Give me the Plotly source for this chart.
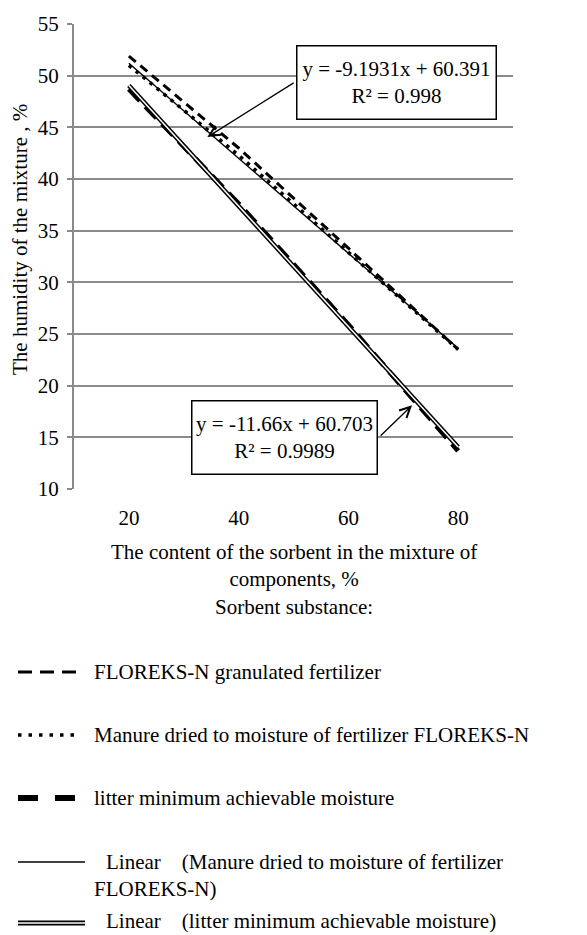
import numpy as np
import plotly.graph_objects as go

# ---------------- data ----------------
sorbent_content = [20, 40, 60, 80]            # x categories, %
floreks_humidity = [51.9, 43.0, 33.3, 23.5]   # FLOREKS-N granulated fertilizer
manure_humidity = [51.0, 42.3, 32.9, 23.5]    # manure dried to moisture of FLOREKS-N
litter_humidity = [48.7, 37.6, 25.9, 13.7]    # litter minimum achievable moisture

manure_slope, manure_intercept, manure_r2 = -9.1931, 60.391, "0.998"
litter_slope, litter_intercept, litter_r2 = -11.66, 60.703, "0.9989"

y_ticks = [10, 15, 20, 25, 30, 35, 40, 45, 50, 55]
x_ticks = [20, 40, 60, 80]

series_names = [
    "FLOREKS-N granulated fertilizer",
    "Manure dried to moisture of fertilizer FLOREKS-N",
    "litter minimum achievable moisture",
    "Linear    (Manure dried to moisture of fertilizer FLOREKS-N)",
    "Linear    (litter minimum achievable moisture)",
]

x_title = "The content of the sorbent in the mixture of<br>components, %<br>Sorbent substance:"
y_title = "The humidity of the mixture , %"

# ---------------- geometry (page pixels) ----------------
PAGE_W, PAGE_H = 587, 935
OFF = 8                       # default body margin of the page
W, H = PAGE_W - OFF, PAGE_H - OFF
L, R, T, B = 74, 513, 24, 489  # plot area in page pixels
FONT = "Liberation Serif"
FS = 21


def px(xp):
    return (xp - L) / (R - L)


def py(yp):
    return (B - yp) / (B - T)


idx = np.arange(1, len(sorbent_content) + 1)
manure_fit = manure_slope * idx + manure_intercept
litter_fit = litter_slope * idx + litter_intercept

fig = go.Figure()

fig.add_trace(go.Scatter(x=sorbent_content, y=floreks_humidity, mode="lines",
                         name=series_names[0], showlegend=False,
                         line=dict(color="black", width=3, dash="9px,6px")))
fig.add_trace(go.Scatter(x=sorbent_content, y=manure_humidity, mode="lines",
                         name=series_names[1], showlegend=False,
                         line=dict(color="black", width=3.5, dash="3.5px,5.5px")))
fig.add_trace(go.Scatter(x=sorbent_content, y=litter_humidity, mode="lines",
                         name=series_names[2], showlegend=False,
                         line=dict(color="black", width=5, dash="16px,8px")))
fig.add_trace(go.Scatter(x=sorbent_content, y=manure_fit, mode="lines",
                         name=series_names[3], showlegend=False,
                         line=dict(color="black", width=1.4)))
fig.add_trace(go.Scatter(x=sorbent_content, y=litter_fit, mode="lines",
                         name=series_names[4], showlegend=False,
                         line=dict(color="black", width=4.5)))
fig.add_trace(go.Scatter(x=sorbent_content, y=litter_fit, mode="lines",
                         name=series_names[4], showlegend=False, hoverinfo="skip",
                         line=dict(color="white", width=1.5)))

annotations = []

# equation boxes
annotations.append(dict(
    x=px(396.5), y=py(82.5), xref="paper", yref="paper", xanchor="center", yanchor="middle",
    text=f"y = {manure_slope}x + {manure_intercept}<br>R² = {manure_r2}",
    showarrow=False, width=198, height=72, bgcolor="white",
    bordercolor="black", borderwidth=1.5, borderpad=0,
    font=dict(family=FONT, size=FS, color="black"), align="center"))
annotations.append(dict(
    x=px(284.5), y=py(437.5), xref="paper", yref="paper", xanchor="center", yanchor="middle",
    text=f"y = {litter_slope}x + {litter_intercept}<br>R² = {litter_r2}",
    showarrow=False, width=184, height=72, bgcolor="white",
    bordercolor="black", borderwidth=1.5, borderpad=0,
    font=dict(family=FONT, size=FS, color="black"), align="center"))

# arrows
annotations.append(dict(
    x=34.3, y=44.06, xref="x", yref="y", ax=50.3, ay=49.39, axref="x", ayref="y",
    text="", showarrow=True, arrowhead=5, arrowsize=1.6, arrowwidth=1.3,
    arrowcolor="black"))
annotations.append(dict(
    x=71.6, y=18.1, xref="x", yref="y", ax=65.6, ay=15.02, axref="x", ayref="y",
    text="", showarrow=True, arrowhead=5, arrowsize=1.6, arrowwidth=1.3,
    arrowcolor="black"))

# axis titles
annotations.append(dict(
    x=px(20), y=py(240), xref="paper", yref="paper", text=y_title,
    textangle=-90, showarrow=False, xanchor="center", yanchor="middle",
    font=dict(family=FONT, size=FS, color="black")))
annotations.append(dict(
    x=px(294), y=py(538), xref="paper", yref="paper", text=x_title,
    showarrow=False, xanchor="center", yanchor="top", align="center",
    font=dict(family=FONT, size=FS, color="black")))

# legend (drawn manually)
shapes = []
legend_rows = [672, 735, 798, 862, 921]
lx0, lx1 = 18, 77


def legend_line(row, x1, width, dash="solid", color="black"):
    shapes.append(dict(type="line", xref="paper", yref="paper", x0=px(lx0), x1=px(x1),
                       y0=py(row), y1=py(row),
                       line=dict(color=color, width=width, dash=dash)))


legend_line(legend_rows[0], lx1, 3, "14px,8px")
legend_line(legend_rows[1], lx1, 3.5, "3.5px,7px")
legend_line(legend_rows[2], lx1, 6, "20px,17px")
legend_line(legend_rows[3], 85, 1.5)
legend_line(legend_rows[4] + 2, 85, 5)
legend_line(legend_rows[4] + 2, 85, 1.6, color="white")

legend_texts = [
    (92, legend_rows[0], series_names[0]),
    (92, legend_rows[1], series_names[1]),
    (92, legend_rows[2], series_names[2]),
    (104, legend_rows[3], "Linear&nbsp;&nbsp;&nbsp;&nbsp;(Manure dried to moisture of fertilizer"),
    (92, 889, "FLOREKS-N)"),
    (104, legend_rows[4], "Linear&nbsp;&nbsp;&nbsp;&nbsp;(litter minimum achievable moisture)"),
]
for xp, yp, t in legend_texts:
    annotations.append(dict(
        x=px(xp), y=py(yp), xref="paper", yref="paper", text=t,
        showarrow=False, xanchor="left", yanchor="middle",
        font=dict(family=FONT, size=FS, color="black")))

fig.update_layout(
    width=W, height=H,
    margin=dict(l=L - OFF, r=PAGE_W - R, t=T - OFF, b=PAGE_H - B, pad=0, autoexpand=False),
    paper_bgcolor="white", plot_bgcolor="white",
    showlegend=False,
    font=dict(family=FONT, size=FS, color="black"),
    xaxis=dict(range=[10, 90], tickvals=x_ticks, ticktext=[str(v) for v in x_ticks],
               automargin=False,
               showgrid=False, zeroline=False, showline=False, ticks="",
               ticklabelstandoff=14, tickfont=dict(family=FONT, size=FS, color="black")),
    yaxis=dict(range=[10, 55], tickvals=y_ticks, showgrid=True, gridcolor="#8a8a8a",
               automargin=False,
               gridwidth=2, zeroline=False, showline=True, linecolor="#8a8a8a",
               linewidth=2, ticks="outside", ticklen=5, tickcolor="#8a8a8a", tickwidth=2,
               ticklabelstandoff=4, tickfont=dict(family=FONT, size=FS, color="black")),
    annotations=annotations,
    shapes=shapes,
)

fig.write_html("out.html")
